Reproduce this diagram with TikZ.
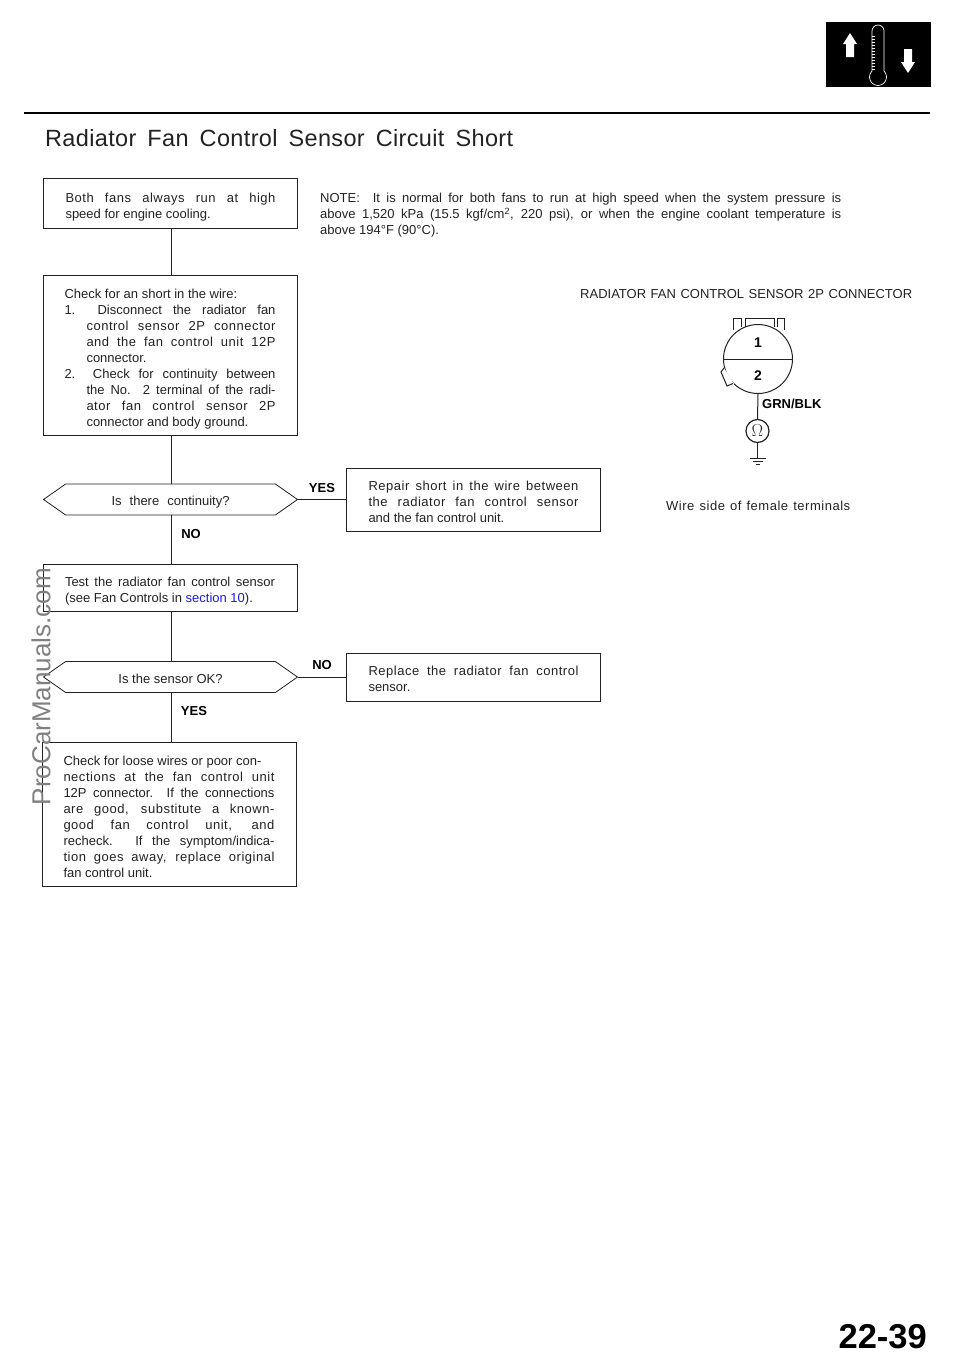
\documentclass[tikz,border=0pt]{standalone}
\usepackage{fontspec}
\setmainfont{Liberation Sans}
\newfontface\widefont[LetterSpace=4]{Liberation Sans}
\newfontface\titlefont[LetterSpace=1.5]{Liberation Sans}
\usetikzlibrary{shapes.symbols}
\newcommand{\jl}[2]{\makebox[#1pt][s]{#2}}
\newcommand{\jw}[2]{\makebox[#1pt][s]{\widefont #2}}
\newcommand{\lift}[1]{\rule{0pt}{\dimexpr 9.5pt+#1pt*2\relax}}
\definecolor{ink}{HTML}{222222}
\definecolor{linkblue}{HTML}{1A1AE6}
\tikzset{
  every node/.style={text=ink},
  body/.style={font=\fontsize{13}{16}\selectfont},
  boxnode/.style={draw=ink,line width=0.8pt,fill=white,rectangle,inner sep=0pt,align=left,body},
  hexnode/.style={draw=ink,line width=0.8pt,fill=white,signal,signal to=west and east,signal pointer angle=70,
     minimum width=254pt,minimum height=31pt,inner sep=0pt,body},
  flow/.style={draw=ink,line width=0.8pt},
  answer/.style={font=\fontsize{13}{16}\selectfont\bfseries,text=black},
  free/.style={inner sep=0pt,body,align=left},
  thin line/.style={draw=ink,line width=1pt}
}
\begin{document}
\begin{tikzpicture}[x=1pt,y=-1pt]
\useasboundingbox[fill=white] (0,0) rectangle (960,1371);
% header icon
\fill[black] (826,22) rectangle (931,87);
\draw[white,line width=0.7pt] (872,31) arc[start angle=180,end angle=0,radius=6pt] -- (884,71) arc[start angle=45,end angle=-225,radius=8.5pt] -- cycle;
\foreach \ty in {36,39,...,69} {\draw[white,line width=0.6pt] (872,\ty) -- (874.5,\ty);}
\fill[white] (850,33) -- (857,44) -- (854,44) -- (854,57) -- (846,57) -- (846,44) -- (843,44) -- cycle;
\fill[white] (908,73) -- (915,62) -- (912,62) -- (912,49) -- (904,49) -- (904,62) -- (901,62) -- cycle;
\coordinate (ruleL) at (24,113);
\coordinate (ruleR) at (930,113);
\draw[black,line width=2pt] (ruleL) -- (ruleR);
\node[anchor=base west,inner sep=0pt] (title) at (45,146.5) {\fontsize{23.5}{28}\selectfont\makebox[468pt][s]{\titlefont Radiator Fan Control Sensor Circuit Short}};
% flow boxes
\node[boxnode,minimum width=254pt,minimum height=50pt] (A) at (170.5,203) {\lift{4}\jw{210}{Both fans always run at high}\\speed for engine cooling.};
\node[boxnode,minimum width=254pt,minimum height=160pt] (B) at (170,355) {\lift{4}Check for an short in the wire:\\
\jl{211}{1.\ \ Disconnect the radiator fan}\\
\hspace*{22pt}\jw{189}{control sensor 2P connector}\\
\hspace*{22pt}\jw{189}{and the fan control unit 12P}\\
\hspace*{22pt}connector.\\
\jl{211}{2.\ \ Check for continuity between}\\
\hspace*{22pt}\jl{189}{the No. 2 terminal of the radi-}\\
\hspace*{22pt}\jw{189}{ator fan control sensor 2P}\\
\hspace*{22pt}connector and body ground.};
\node[hexnode] (D1) at (170.5,499.5) {\lift{3}\jl{118}{Is there continuity?}};
\node[boxnode,minimum width=254pt,minimum height=47pt] (C) at (170,587.5) {\lift{4}\jl{210}{Test the radiator fan control sensor}\\(see Fan Controls in \textcolor{linkblue}{section 10}).};
\node[hexnode] (D2) at (170.5,677) {\lift{2}Is the sensor OK?};
\node[boxnode,minimum width=254pt,minimum height=144pt] (E) at (169,814) {\lift{2.5}Check for loose wires or poor con-\\
\jw{211}{nections at the fan control unit}\\
\jl{211}{12P connector. If the connections}\\
\jw{211}{are good, substitute a known-}\\
\jw{211}{good fan control unit, and}\\
\jl{211}{recheck. If the symptom/indica-}\\
\jw{211}{tion goes away, replace original}\\
fan control unit.};
\node[boxnode,minimum width=254pt,minimum height=63pt] (R1) at (473.5,499.5) {\lift{2.5}\jw{210}{Repair short in the wire between}\\\jw{210}{the radiator fan control sensor}\\and the fan control unit.};
\node[boxnode,minimum width=254pt,minimum height=48pt] (R2) at (473.5,677) {\lift{2}\jw{210}{Replace the radiator fan control}\\sensor.};
% connectors
\draw[flow] (171,228) -- (171,275);
\draw[flow] (171,435) -- (171,484);
\draw[flow] (171,515) -- (171,564);
\draw[flow] (171,611) -- (171,661);
\draw[flow] (171,693) -- (171,742);
\draw[flow] (D1.east) -- (R1.west |- D1.east);
\draw[flow] (D2.east) -- (R2.west |- D2.east);
% answers
\node[answer] (yes1) at (322,488) {YES};
\node[answer] (no1) at (191,534) {NO};
\node[answer] (no2) at (322,665) {NO};
\node[answer] (yes2) at (194,711) {YES};
% note
\node[free,anchor=north west] (note) at (320,193) {\jl{521}{NOTE:\ \ It is normal for both fans to run at high speed when the system pressure is}\\
\jl{521}{above 1,520 kPa (15.5 kgf/cm\textsuperscript{2}, 220 psi), or when the engine coolant temperature is}\\
above 194°F (90°C).};
\node[free,anchor=base west] (cap) at (580,298) {\jl{332}{RADIATOR FAN CONTROL SENSOR 2P CONNECTOR}};
\node[free,anchor=base west] (wire) at (666,510) {\jw{184}{Wire side of female terminals}};
% connector drawing
\draw[thin line] (733,330) -- (733,318) -- (741,318) -- (741,327);
\draw[thin line] (777,327) -- (777,318) -- (784,318) -- (784,330);
\draw[thin line] (745,327) -- (745,318) -- (774,318) -- (774,327);
\node[circle,thin line,minimum size=69pt,inner sep=0pt] (conn) at (758,359) {};
\draw[thin line] (conn.west) -- (conn.east);
\fill[white] (724,368) -- (721,372) -- (727,386) -- (734,384) -- cycle;
\draw[thin line] (724,368) -- (721,372) -- (727,386) -- (733,383.5);
\node[font=\fontsize{14}{14}\selectfont\bfseries,text=black] (pin1) at (758,343) {1};
\node[font=\fontsize{14}{14}\selectfont\bfseries,text=black] (pin2) at (758,376) {2};
\node[anchor=west,inner sep=0pt,font=\fontsize{13}{14}\selectfont\bfseries,text=black] (wirecol) at (762,404) {GRN/BLK};
\node[circle,thin line,line width=1.2pt,minimum size=23pt,inner sep=0pt,font=\fontsize{17}{17}\selectfont] (ohm) at (757.5,431) {$\Omega$};
\coordinate (gnd) at (757.5,458);
\draw[thin line] (conn.south) -- (ohm.north);
\draw[thin line] (ohm.south) -- (gnd);
\draw[thin line] (749.5,458) -- (765.5,458);
\draw[thin line] (752.5,461) -- (762.5,461);
\draw[thin line] (755.5,464) -- (759.5,464);
% page number and watermark
\node[anchor=base east,inner sep=0pt,font=\fontsize{34.5}{36}\selectfont\bfseries,text=black] (page) at (927,1348) {22-39};
\node[rotate=90,inner sep=0pt,text=black!50,font=\fontsize{26}{27}\selectfont] (mark) at (41,685) {\jl{240}{ProCarManuals.com}};
\end{tikzpicture}
\end{document}
